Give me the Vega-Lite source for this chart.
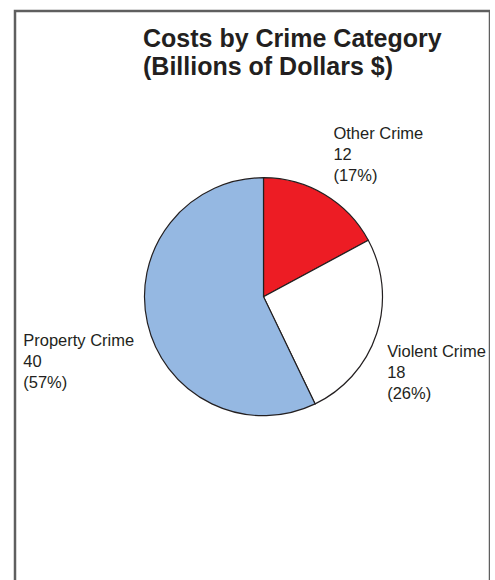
{
  "$schema": "https://vega.github.io/schema/vega-lite/v6.json",
  "width": 475,
  "height": 600,
  "autosize": {"type": "none"},
  "padding": {"left": 15, "top": 11, "right": 0, "bottom": 0},
  "background": "white",
  "view": {"stroke": "#5f5f5f", "strokeWidth": 2.5},
  "config": {"view": {"stroke": "#5f5f5f", "strokeWidth": 2.5}, "font": "Liberation Sans"},
  "title": {
    "text": ["Costs by Crime Category", "(Billions of Dollars $)"],
    "anchor": "start",
    "frame": "group",
    "dx": 128,
    "offset": -69,
    "fontSize": 25,
    "font": "Liberation Sans",
    "fontWeight": "bold",
    "color": "#231f20",
    "lineHeight": 28
  },
  "data": {
    "values": [
      {"category": "Other Crime", "cost": 12},
      {"category": "Violent Crime", "cost": 18},
      {"category": "Property Crime", "cost": 40}
    ]
  },
  "transform": [
    {"joinaggregate": [{"op": "sum", "field": "cost", "as": "total"}]},
    {"calculate": "[datum.category, datum.cost + '', '(' + round(datum.cost / datum.total * 100) + '%)']", "as": "label"}
  ],
  "encoding": {
    "theta": {"field": "cost", "type": "quantitative", "stack": true},
    "order": {"field": "cost", "type": "quantitative", "sort": "ascending"}
  },
  "layer": [
    {
      "mark": {"type": "arc", "x": 248.5, "y": 285.7, "outerRadius": 119, "stroke": "#231f20", "strokeWidth": 1.2},
      "encoding": {
        "color": {
          "field": "category",
          "type": "nominal",
          "scale": {"domain": ["Other Crime", "Violent Crime", "Property Crime"], "range": ["#ed1c24", "#ffffff", "#95b8e2"]},
          "legend": null
        }
      }
    },
    {
      "mark": {
        "type": "text",
        "x": 248.5,
        "y": 285.7,
        "radius": 150,
        "align": "left",
        "baseline": "top",
        "fontSize": 16.5,
        "lineHeight": 21,
        "color": "#231f20",
        "dx": {"expr": "datum.category === 'Other Crime' ? -7 : datum.category === 'Violent Crime' ? -19 : -94"},
        "dy": {"expr": "datum.category === 'Other Crime' ? -42 : datum.category === 'Violent Crime' ? 1 : 3"}
      },
      "encoding": {"text": {"field": "label"}}
    }
  ]
}
